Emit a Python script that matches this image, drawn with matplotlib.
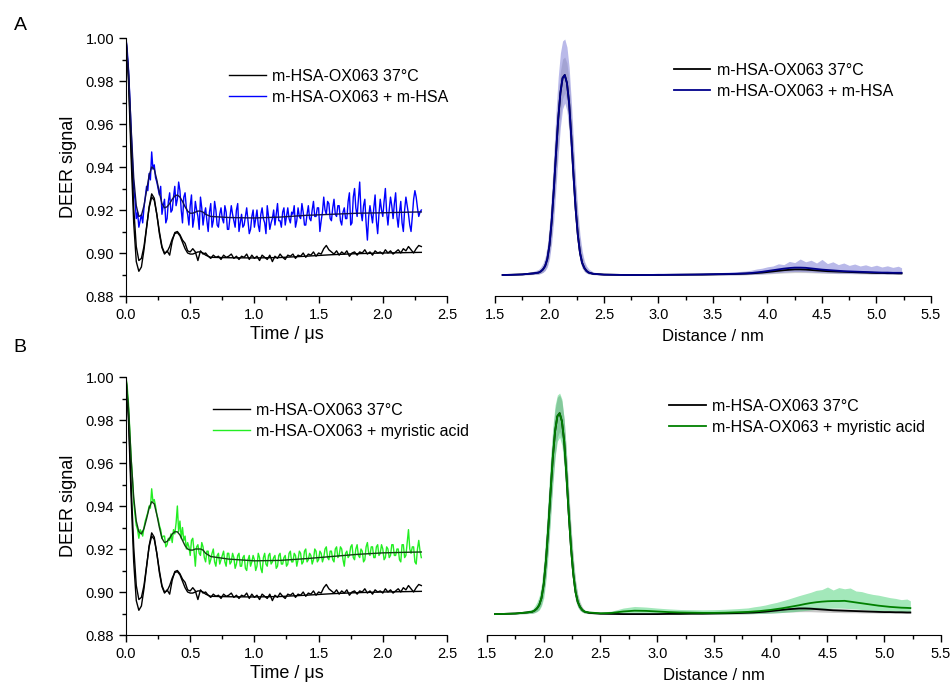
import numpy as np
import matplotlib
matplotlib.use("Agg")
import matplotlib.pyplot as plt
from matplotlib.ticker import MultipleLocator

plt.rcParams['font.family'] = ['Liberation Sans', 'DejaVu Sans']

# ---- time-domain data (µs) ----
time = np.round(np.arange(0, 2.3001, 0.02), 2)       # black trace grid
time_fine = np.round(np.arange(0, 2.3001, 0.01), 2)  # blue / green trace grid

black_trace = [
    1.000, 0.979, 0.944, 0.914, 0.896, 0.8915, 0.8935, 0.9015, 0.9115, 0.9215,
    0.9275, 0.9255, 0.918, 0.909, 0.9025, 0.8995, 0.9010, 0.8990, 0.9055, 0.9095,
    0.9100, 0.9085, 0.9060, 0.9045, 0.9010, 0.9005, 0.9020, 0.9005, 0.8965, 0.9010,
    0.8995, 0.9000, 0.8985, 0.8975, 0.8990, 0.8980, 0.8985, 0.8970, 0.8990, 0.8980,
    0.8985, 0.8995, 0.8975, 0.8985, 0.8970, 0.8985, 0.8980, 0.8995, 0.8970, 0.8990,
    0.8975, 0.8985, 0.8965, 0.8990, 0.8980, 0.8970, 0.8990, 0.8960, 0.8985, 0.8975,
    0.8995, 0.8980, 0.8970, 0.8990, 0.8985, 0.8995, 0.8975, 0.8990, 0.8985, 0.9000,
    0.8980, 0.8995, 0.8990, 0.9005, 0.8985, 0.9000, 0.8995, 0.9020, 0.9035, 0.9015,
    0.9005, 0.8995, 0.9010, 0.8990, 0.9005, 0.8995, 0.9010, 0.8985, 0.9000, 0.9005,
    0.8990, 0.9005, 0.9000, 0.9015, 0.8995, 0.9005, 0.8990, 0.9010, 0.9000, 0.9005,
    0.8995, 0.9015, 0.9000, 0.9010, 0.8995, 0.9005, 0.9015, 0.9000, 0.9020, 0.9010,
    0.9030, 0.9015, 0.9000, 0.9020, 0.9035, 0.9030,
]

blue_trace = [
    1.000, 0.994, 0.985, 0.972, 0.957, 0.944, 0.930, 0.925, 0.916, 0.919,
    0.912, 0.915, 0.918, 0.914, 0.921, 0.926, 0.931, 0.929, 0.937, 0.934,
    0.947, 0.939, 0.941, 0.935, 0.933, 0.930, 0.927, 0.931, 0.918, 0.922,
    0.925, 0.914, 0.916, 0.924, 0.928, 0.919, 0.920, 0.926, 0.931, 0.922,
    0.925, 0.933, 0.929, 0.920, 0.914, 0.926, 0.928, 0.921, 0.918, 0.913,
    0.922, 0.927, 0.912, 0.916, 0.924, 0.920, 0.917, 0.911, 0.926, 0.921,
    0.913, 0.918, 0.921, 0.915, 0.910, 0.919, 0.923, 0.912, 0.915, 0.924,
    0.920, 0.913, 0.912, 0.918, 0.921, 0.916, 0.914, 0.922, 0.919, 0.911,
    0.911, 0.917, 0.922, 0.918, 0.915, 0.912, 0.920, 0.923, 0.910, 0.914,
    0.918, 0.912, 0.913, 0.917, 0.921, 0.915, 0.909, 0.911, 0.917, 0.920,
    0.912, 0.916, 0.920, 0.913, 0.910, 0.918, 0.921, 0.916, 0.914, 0.909,
    0.922, 0.917, 0.911, 0.914, 0.916, 0.920, 0.913, 0.918, 0.923, 0.915,
    0.915, 0.912, 0.919, 0.921, 0.913, 0.917, 0.921, 0.916, 0.914, 0.919,
    0.918, 0.922, 0.912, 0.915, 0.921, 0.917, 0.916, 0.923, 0.919, 0.913,
    0.913, 0.918, 0.922, 0.916, 0.915, 0.920, 0.924, 0.917, 0.917, 0.921,
    0.921, 0.910, 0.915, 0.919, 0.926, 0.920, 0.918, 0.924, 0.923, 0.916,
    0.915, 0.921, 0.925, 0.918, 0.917, 0.922, 0.922, 0.915, 0.913, 0.919,
    0.921, 0.916, 0.916, 0.924, 0.928, 0.913, 0.914, 0.926, 0.930, 0.921,
    0.917, 0.925, 0.933, 0.919, 0.915, 0.922, 0.925, 0.914, 0.906, 0.917,
    0.922, 0.918, 0.914, 0.921, 0.927, 0.915, 0.909, 0.918, 0.925, 0.920,
    0.917, 0.924, 0.930, 0.919, 0.913, 0.920, 0.926, 0.922, 0.916, 0.923,
    0.928, 0.917, 0.912, 0.919, 0.924, 0.914, 0.910, 0.920, 0.926, 0.922,
    0.918, 0.913, 0.910, 0.917, 0.925, 0.929, 0.926, 0.921, 0.917, 0.919,
    0.920,
]

green_trace = [
    1.000, 0.995, 0.987, 0.975, 0.962, 0.953, 0.942, 0.936, 0.931, 0.929,
    0.925, 0.929, 0.928, 0.926, 0.930, 0.933, 0.935, 0.937, 0.940, 0.939,
    0.948, 0.942, 0.943, 0.940, 0.936, 0.934, 0.931, 0.929, 0.925, 0.926,
    0.926, 0.921, 0.922, 0.925, 0.924, 0.927, 0.923, 0.929, 0.927, 0.932,
    0.940, 0.928, 0.933, 0.925, 0.930, 0.924, 0.926, 0.920, 0.923, 0.921,
    0.917, 0.924, 0.925, 0.919, 0.912, 0.921, 0.922, 0.918, 0.917, 0.923,
    0.921, 0.916, 0.914, 0.919, 0.919, 0.913, 0.915, 0.918, 0.920, 0.914,
    0.912, 0.917, 0.918, 0.913, 0.915, 0.917, 0.919, 0.914, 0.912, 0.918,
    0.918, 0.913, 0.914, 0.918, 0.916, 0.911, 0.913, 0.917, 0.918, 0.912,
    0.912, 0.916, 0.917, 0.911, 0.910, 0.915, 0.917, 0.912, 0.914, 0.917,
    0.915, 0.910, 0.912, 0.918, 0.916, 0.911, 0.909, 0.916, 0.918, 0.913,
    0.912, 0.917, 0.918, 0.913, 0.914, 0.916, 0.917, 0.911, 0.912, 0.917,
    0.918, 0.913, 0.913, 0.916, 0.917, 0.912, 0.913, 0.918, 0.919, 0.914,
    0.914, 0.918, 0.917, 0.912, 0.915, 0.919, 0.918, 0.913, 0.914, 0.919,
    0.920, 0.914, 0.915, 0.918, 0.917, 0.913, 0.915, 0.920, 0.919, 0.914,
    0.915, 0.919, 0.918, 0.914, 0.916, 0.920, 0.921, 0.916, 0.915, 0.919,
    0.919, 0.915, 0.914, 0.920, 0.921, 0.916, 0.917, 0.921, 0.920, 0.915,
    0.912, 0.918, 0.919, 0.916, 0.917, 0.921, 0.922, 0.916, 0.915, 0.920,
    0.922, 0.917, 0.916, 0.920, 0.919, 0.914, 0.915, 0.921, 0.923, 0.918,
    0.917, 0.921, 0.921, 0.916, 0.916, 0.921, 0.922, 0.917, 0.918, 0.922,
    0.920, 0.915, 0.916, 0.921, 0.920, 0.916, 0.917, 0.922, 0.922, 0.917,
    0.917, 0.920, 0.920, 0.915, 0.914, 0.922, 0.922, 0.916, 0.917, 0.923,
    0.929, 0.920, 0.918, 0.921, 0.921, 0.914, 0.913, 0.920, 0.924, 0.919,
    0.916,
]

# fits on their own time grid
fit_time = [0.00, 0.02, 0.04, 0.06, 0.08, 0.10, 0.12, 0.14, 0.16, 0.18,
            0.20, 0.22, 0.24, 0.26, 0.28, 0.30, 0.32, 0.34, 0.36, 0.38,
            0.40, 0.42, 0.44, 0.46, 0.48, 0.50, 0.52, 0.54, 0.56, 0.58,
            0.60, 0.62, 0.66, 0.80, 1.00, 1.20, 1.40, 1.60, 1.80, 2.00,
            2.20, 2.30]
black_fit = [1.000, 0.982, 0.950, 0.921, 0.903, 0.8965, 0.8975, 0.903, 0.912, 0.921,
             0.926, 0.9245, 0.918, 0.910, 0.903, 0.900, 0.9005, 0.903, 0.9065, 0.909,
             0.9095, 0.908, 0.905, 0.902, 0.900, 0.8995, 0.8995, 0.900, 0.9005, 0.9005,
             0.900, 0.899, 0.898, 0.8978, 0.8977, 0.8979, 0.8985, 0.8992, 0.8997, 0.9000,
             0.9002, 0.9003]
blue_fit = [1.000, 0.984, 0.958, 0.935, 0.922, 0.917, 0.9175, 0.922, 0.929, 0.936,
            0.940, 0.939, 0.934, 0.928, 0.923, 0.921, 0.9215, 0.923, 0.925, 0.9265,
            0.927, 0.926, 0.924, 0.9215, 0.9195, 0.9185, 0.9185, 0.919, 0.9195, 0.9195,
            0.919, 0.918, 0.917, 0.9165, 0.9163, 0.9167, 0.9175, 0.918, 0.9185, 0.9187,
            0.9190, 0.9191]
green_fit = [1.000, 0.985, 0.962, 0.944, 0.933, 0.928, 0.927, 0.9295, 0.934, 0.939,
             0.942, 0.941, 0.936, 0.930, 0.925, 0.923, 0.9235, 0.925, 0.927, 0.928,
             0.928, 0.9265, 0.924, 0.9215, 0.920, 0.9195, 0.9195, 0.920, 0.920, 0.920,
             0.9195, 0.918, 0.9165, 0.9153, 0.9145, 0.9147, 0.9155, 0.9165, 0.9175, 0.9182,
             0.9185, 0.9186]

# ---- distance distributions (nm) ----
distance = [1.57, 1.65, 1.75, 1.85,
            1.90, 1.92, 1.94, 1.96, 1.98, 2.00, 2.02, 2.04, 2.06, 2.08, 2.10, 2.12,
            2.14, 2.16, 2.18, 2.20, 2.22, 2.24, 2.26, 2.28, 2.30, 2.32, 2.34, 2.36,
            2.40, 2.50, 2.60, 2.70, 2.80, 2.90, 3.00, 3.10, 3.20, 3.30, 3.40, 3.50,
            3.60, 3.70, 3.80, 3.85, 3.90, 3.95, 4.00, 4.05, 4.10, 4.15, 4.20, 4.25,
            4.30, 4.35, 4.40, 4.45, 4.50, 4.55, 4.60, 4.65, 4.70, 4.75, 4.80, 4.85,
            4.90, 4.95, 5.00, 5.05, 5.10, 5.15, 5.20, 5.23]

black_p = [0.000, 0.001, 0.003, 0.008,
           0.012, 0.018, 0.028, 0.045, 0.08, 0.15, 0.27, 0.43, 0.61, 0.78, 0.91, 0.985,
           1.00, 0.96, 0.86, 0.69, 0.50, 0.33, 0.20, 0.11, 0.06, 0.035, 0.02, 0.012,
           0.006, 0.002, 0.001, 0.000, 0.000, 0.000, 0.000, 0.001, 0.001, 0.002, 0.002, 0.003,
           0.004, 0.005, 0.007, 0.008, 0.010, 0.012, 0.015, 0.018, 0.021, 0.024, 0.026, 0.028,
           0.028, 0.027, 0.025, 0.023, 0.021, 0.019, 0.018, 0.017, 0.016, 0.015, 0.014, 0.013,
           0.012, 0.011, 0.010, 0.010, 0.009, 0.009, 0.008, 0.008]
black_lo = [0.000, 0.000, 0.000, 0.002,
            0.004, 0.008, 0.014, 0.025, 0.05, 0.10, 0.19, 0.33, 0.49, 0.66, 0.79, 0.88,
            0.91, 0.87, 0.76, 0.59, 0.41, 0.25, 0.14, 0.07, 0.035, 0.018, 0.010, 0.005,
            0.002, 0.000, 0.000, 0.000, 0.000, 0.000, 0.000, 0.000, 0.000, 0.000, 0.000, 0.000,
            0.000, 0.000, 0.001, 0.002, 0.003, 0.004, 0.005, 0.007, 0.008, 0.010, 0.011, 0.012,
            0.012, 0.012, 0.011, 0.010, 0.009, 0.008, 0.008, 0.007, 0.007, 0.007, 0.006, 0.006,
            0.006, 0.005, 0.005, 0.005, 0.005, 0.004, 0.004, 0.004]
black_hi = [0.002, 0.003, 0.006, 0.014,
            0.020, 0.030, 0.045, 0.07, 0.12, 0.22, 0.37, 0.55, 0.74, 0.90, 1.02, 1.08,
            1.09, 1.06, 0.97, 0.81, 0.62, 0.44, 0.29, 0.17, 0.10, 0.06, 0.035, 0.02,
            0.010, 0.004, 0.003, 0.002, 0.002, 0.002, 0.002, 0.003, 0.003, 0.004, 0.005, 0.006,
            0.007, 0.009, 0.011, 0.013, 0.015, 0.018, 0.021, 0.025, 0.028, 0.031, 0.034, 0.036,
            0.037, 0.036, 0.034, 0.032, 0.030, 0.028, 0.027, 0.026, 0.025, 0.023, 0.022, 0.021,
            0.020, 0.019, 0.018, 0.018, 0.017, 0.017, 0.016, 0.016]

blue_p = [0.000, 0.001, 0.003, 0.008,
          0.012, 0.018, 0.028, 0.045, 0.08, 0.15, 0.27, 0.43, 0.61, 0.78, 0.91, 0.985,
          1.00, 0.96, 0.86, 0.69, 0.50, 0.33, 0.20, 0.11, 0.06, 0.035, 0.02, 0.012,
          0.006, 0.002, 0.001, 0.000, 0.000, 0.000, 0.001, 0.001, 0.002, 0.002, 0.003, 0.004,
          0.005, 0.006, 0.008, 0.010, 0.013, 0.016, 0.020, 0.024, 0.028, 0.032, 0.035, 0.037,
          0.037, 0.036, 0.033, 0.030, 0.027, 0.025, 0.023, 0.021, 0.019, 0.018, 0.017, 0.016,
          0.015, 0.014, 0.013, 0.012, 0.012, 0.011, 0.011, 0.011]
blue_lo = [0.000, 0.000, 0.001, 0.003,
           0.005, 0.008, 0.013, 0.022, 0.04, 0.08, 0.16, 0.28, 0.44, 0.60, 0.74, 0.83,
           0.86, 0.82, 0.71, 0.55, 0.38, 0.24, 0.14, 0.07, 0.035, 0.018, 0.009, 0.005,
           0.002, 0.000, 0.000, 0.000, 0.000, 0.000, 0.000, 0.000, 0.000, 0.000, 0.000, 0.000,
           0.000, 0.001, 0.002, 0.003, 0.004, 0.006, 0.008, 0.010, 0.012, 0.014, 0.016, 0.017,
           0.017, 0.016, 0.015, 0.013, 0.012, 0.011, 0.010, 0.009, 0.009, 0.008, 0.008, 0.007,
           0.007, 0.006, 0.006, 0.006, 0.005, 0.005, 0.005, 0.005]
blue_hi = [0.003, 0.004, 0.008, 0.018,
           0.028, 0.040, 0.058, 0.09, 0.15, 0.26, 0.42, 0.62, 0.82, 0.99, 1.11, 1.17,
           1.18, 1.14, 1.04, 0.87, 0.67, 0.48, 0.32, 0.20, 0.12, 0.07, 0.045, 0.03,
           0.015, 0.006, 0.004, 0.003, 0.003, 0.003, 0.004, 0.005, 0.006, 0.007, 0.009, 0.011,
           0.013, 0.016, 0.020, 0.024, 0.030, 0.034, 0.041, 0.045, 0.056, 0.052, 0.068, 0.062,
           0.080, 0.066, 0.074, 0.060, 0.078, 0.057, 0.066, 0.052, 0.060, 0.048, 0.055, 0.045,
           0.051, 0.042, 0.049, 0.040, 0.046, 0.038, 0.044, 0.036]

green_p = [0.000, 0.001, 0.003, 0.008,
           0.012, 0.018, 0.028, 0.045, 0.08, 0.15, 0.27, 0.43, 0.61, 0.78, 0.91, 0.985,
           1.00, 0.96, 0.86, 0.69, 0.50, 0.33, 0.20, 0.11, 0.06, 0.035, 0.02, 0.012,
           0.008, 0.004, 0.006, 0.013, 0.017, 0.016, 0.013, 0.010, 0.008, 0.007, 0.006, 0.006,
           0.007, 0.009, 0.011, 0.013, 0.015, 0.018, 0.021, 0.025, 0.029, 0.034, 0.039, 0.044,
           0.050, 0.055, 0.059, 0.062, 0.064, 0.065, 0.065, 0.066, 0.062, 0.058, 0.054, 0.050,
           0.046, 0.042, 0.039, 0.036, 0.034, 0.032, 0.031, 0.030]
green_lo = [0.000, 0.000, 0.001, 0.003,
            0.004, 0.007, 0.012, 0.020, 0.04, 0.08, 0.17, 0.30, 0.47, 0.64, 0.78, 0.86,
            0.88, 0.84, 0.73, 0.57, 0.40, 0.25, 0.14, 0.07, 0.035, 0.018, 0.010, 0.005,
            0.003, 0.001, 0.001, 0.002, 0.003, 0.003, 0.002, 0.001, 0.001, 0.001, 0.001, 0.001,
            0.001, 0.002, 0.002, 0.003, 0.003, 0.004, 0.005, 0.006, 0.008, 0.010, 0.012, 0.015,
            0.018, 0.021, 0.024, 0.027, 0.029, 0.030, 0.030, 0.029, 0.027, 0.025, 0.023, 0.021,
            0.019, 0.017, 0.016, 0.015, 0.014, 0.013, 0.013, 0.012]
green_hi = [0.002, 0.003, 0.007, 0.016,
            0.025, 0.040, 0.060, 0.09, 0.15, 0.26, 0.41, 0.59, 0.78, 0.93, 1.04, 1.09,
            1.10, 1.07, 0.97, 0.80, 0.60, 0.42, 0.27, 0.16, 0.09, 0.05, 0.03, 0.02,
            0.014, 0.009, 0.015, 0.030, 0.038, 0.035, 0.030, 0.026, 0.023, 0.022, 0.021, 0.022,
            0.024, 0.027, 0.031, 0.036, 0.040, 0.045, 0.052, 0.058, 0.066, 0.074, 0.083, 0.092,
            0.100, 0.108, 0.118, 0.122, 0.135, 0.120, 0.132, 0.126, 0.130, 0.115, 0.112, 0.104,
            0.098, 0.094, 0.088, 0.082, 0.078, 0.072, 0.075, 0.066]

label_black = 'm-HSA-OX063 37°C'
label_blue = 'm-HSA-OX063 + m-HSA'
label_green = 'm-HSA-OX063 + myristic acid'

W, H = 953, 684
fig = plt.figure(figsize=(W / 100, H / 100), dpi=100)


def px_axes(left, right, top, bottom):
    return fig.add_axes([left / W, 1 - bottom / H, (right - left) / W, (bottom - top) / H])


def style_time(ax):
    ax.set_xlim(0, 2.5)
    ax.set_ylim(0.88, 1.00)
    ax.xaxis.set_major_locator(MultipleLocator(0.5))
    ax.xaxis.set_minor_locator(MultipleLocator(0.25))
    ax.yaxis.set_major_locator(MultipleLocator(0.02))
    ax.yaxis.set_minor_locator(MultipleLocator(0.01))
    ax.yaxis.set_major_formatter(plt.FormatStrFormatter('%.2f'))
    ax.xaxis.set_major_formatter(plt.FormatStrFormatter('%.1f'))
    for s in ('top', 'right'):
        ax.spines[s].set_visible(False)
    ax.tick_params(which='major', direction='out', length=5, width=1, labelsize=10.5)
    ax.tick_params(which='minor', direction='out', length=3, width=1)
    ax.set_xlabel('Time / μs', fontsize=13, labelpad=3)
    ax.set_ylabel('DEER signal', fontsize=13, labelpad=6)


def style_dist(ax, ymin, ymax):
    ax.set_xlim(1.5, 5.5)
    ax.set_ylim(ymin, ymax)
    ax.xaxis.set_major_locator(MultipleLocator(0.5))
    ax.xaxis.set_minor_locator(MultipleLocator(0.25))
    ax.xaxis.set_major_formatter(plt.FormatStrFormatter('%.1f'))
    for s in ('top', 'right', 'left'):
        ax.spines[s].set_visible(False)
    ax.set_yticks([])
    ax.tick_params(which='major', direction='out', length=5, width=1, labelsize=10.5)
    ax.tick_params(which='minor', direction='out', length=3, width=1)
    ax.set_xlabel('Distance / nm', fontsize=12, labelpad=5)


legend_kw = dict(frameon=False, fontsize=11.5, handlelength=2.3, handletextpad=0.4,
                 labelspacing=0.35, borderpad=0, borderaxespad=0, loc='upper left')

# ---- A, time domain ----
ax1 = px_axes(126, 447, 38, 296)
ax1.plot(time, black_trace, color='black', lw=1.0, label=label_black)
ax1.plot(time_fine, blue_trace, color='#0000ff', lw=1.0, label=label_blue)
ax1.plot(fit_time, black_fit, color='black', lw=1.0)
ax1.plot(fit_time, blue_fit, color='#101050', lw=1.0)
style_time(ax1)
ax1.legend(bbox_to_anchor=(0.321, 0.88), **legend_kw)

# ---- A, distance ----
ax2 = px_axes(495, 931, 38, 296)
ax2.fill_between(distance, black_lo, black_hi, color='#b0b0b0', alpha=0.6, lw=0)
ax2.fill_between(distance, blue_lo, blue_hi, color='#8080d8', alpha=0.55, lw=0)
ax2.plot(distance, black_p, color='black', lw=1.3, label=label_black)
ax2.plot(distance, blue_p, color='#00008b', lw=1.3, label=label_blue)
style_dist(ax2, -0.105, 1.185)
ax2.legend(bbox_to_anchor=(0.41, 0.903), **legend_kw)

# ---- B, time domain ----
ax3 = px_axes(126, 447, 377, 635)
ax3.plot(time, black_trace, color='black', lw=1.0, label=label_black)
ax3.plot(time_fine, green_trace, color='#22ee22', lw=1.0, label=label_green)
ax3.plot(fit_time, black_fit, color='black', lw=1.0)
ax3.plot(fit_time, green_fit, color='#104010', lw=1.0)
style_time(ax3)
ax3.legend(bbox_to_anchor=(0.271, 0.899), **legend_kw)

# ---- B, distance ----
ax4 = px_axes(487, 941, 377, 635)
ax4.fill_between(distance, black_lo, black_hi, color='#b0b0b0', alpha=0.7, lw=0)
ax4.fill_between(distance, green_lo, green_hi, color='#33cc66', alpha=0.45, lw=0)
ax4.plot(distance, black_p, color='black', lw=1.3, label=label_black)
ax4.plot(distance, green_p, color='#008000', lw=1.3, label=label_green)
style_dist(ax4, -0.104, 1.18)
ax4.legend(bbox_to_anchor=(0.401, 0.915), **legend_kw)

fig.text(20 / W, 1 - 25 / H, 'A', fontsize=14, ha='center', va='center')
fig.text(20 / W, 1 - 347 / H, 'B', fontsize=14, ha='center', va='center')

fig.savefig('out.png', dpi=100)
